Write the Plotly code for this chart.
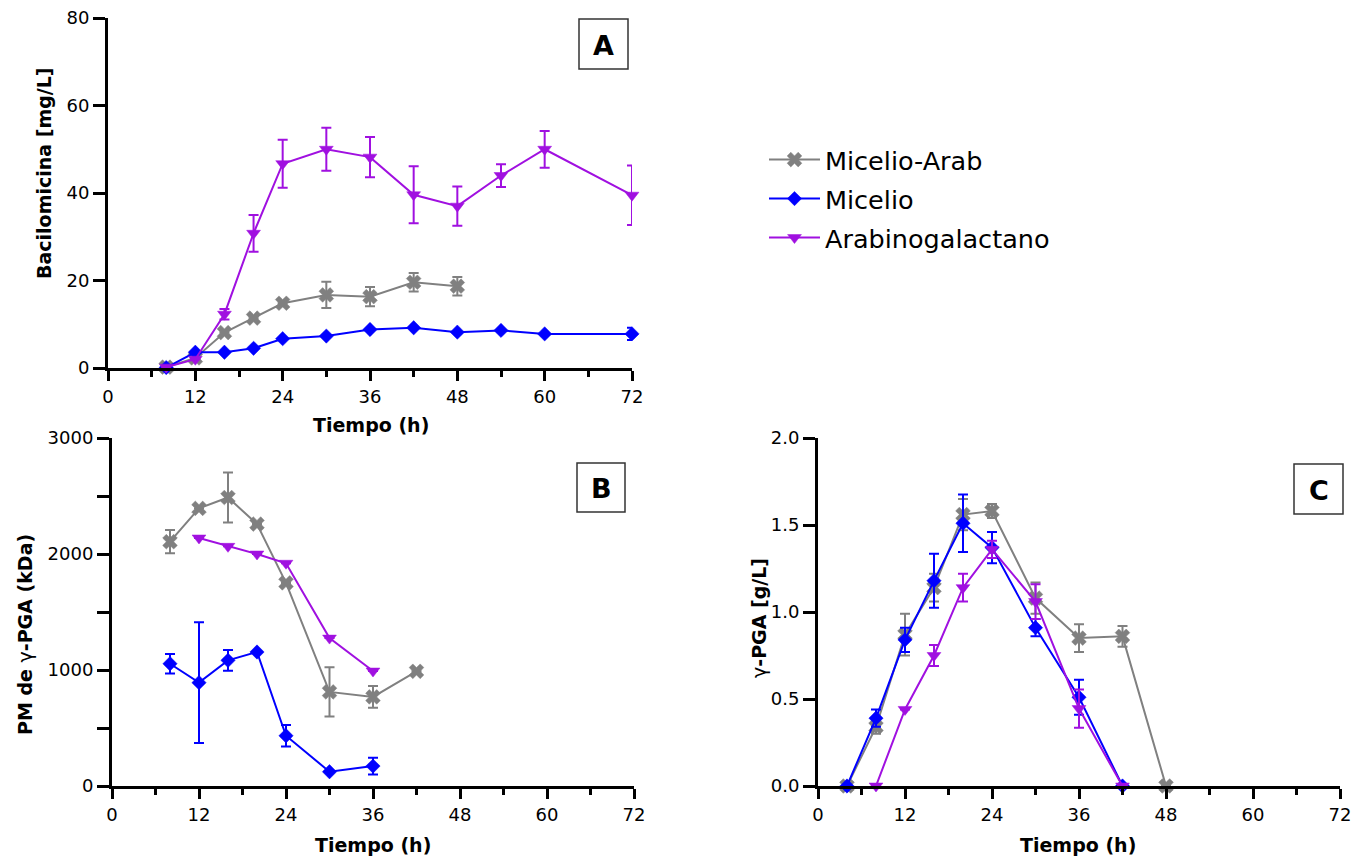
import plotly.graph_objects as go

# ---------------- DATA ----------------
series_names = ["Micelio-Arab", "Micelio", "Arabinogalactano"]

# Panel A: Bacilomicina [mg/L]
hA_gray = [8, 12, 16, 20, 24, 30, 36, 42, 48]
A_gray = [0.2, 2.3, 8.1, 11.4, 14.8, 16.7, 16.3, 19.6, 18.7]
A_gray_err = [None, None, None, None, None, 3.0, 2.2, 2.1, 2.1]

hA_blue = [8, 12, 16, 20, 24, 30, 36, 42, 48, 54, 60, 72]
A_blue = [0.1, 3.6, 3.6, 4.5, 6.7, 7.3, 8.8, 9.2, 8.2, 8.6, 7.8, 7.8]
A_blue_err = [None, None, None, None, None, None, None, None, None, None, None, 1.4]

hA_purple = [8, 12, 16, 20, 24, 30, 36, 42, 48, 54, 60, 72]
A_purple = [0.2, 2.0, 12.3, 30.8, 46.7, 50.0, 48.2, 39.6, 37.0, 44.0, 50.0, 39.5]
A_purple_err = [None, None, 1.2, 4.2, 5.5, 4.9, 4.6, 6.5, 4.5, 2.6, 4.2, 6.8]

# Panel B: PM de gamma-PGA (kDa)
hB_gray = [8, 12, 16, 20, 24, 30, 36, 42]
B_gray = [2106, 2393, 2487, 2258, 1751, 811, 768, 989]
B_gray_err = [100, None, 215, None, None, 212, 93, None]

hB_blue = [8, 12, 16, 20, 24, 30, 36]
B_blue = [1054, 891, 1083, 1155, 433, 123, 172]
B_blue_err = [85, 520, 90, None, 93, None, 72]

hB_purple = [12, 16, 20, 24, 30, 36]
B_purple = [2138, 2066, 2000, 1920, 1275, 991]
B_purple_err = [None, None, None, None, None, None]

# Panel C: gamma-PGA [g/L]
hC_gray = [4, 8, 12, 16, 20, 24, 30, 36, 42, 48]
C_gray = [0.0, 0.34, 0.87, 1.14, 1.56, 1.58, 1.08, 0.85, 0.86, 0.0]
C_gray_err = [None, 0.04, 0.12, 0.08, 0.09, 0.04, 0.09, 0.08, 0.06, None]

hC_blue = [4, 8, 12, 16, 20, 24, 30, 36, 42]
C_blue = [0.0, 0.39, 0.84, 1.18, 1.51, 1.37, 0.91, 0.51, 0.0]
C_blue_err = [None, 0.05, 0.07, 0.155, 0.165, 0.09, 0.05, 0.1, None]

hC_purple = [8, 12, 16, 20, 24, 30, 36, 42]
C_purple = [0.0, 0.44, 0.75, 1.14, 1.36, 1.06, 0.445, 0.0]
C_purple_err = [None, None, 0.06, 0.08, 0.05, 0.1, 0.11, None]

x_ticks = [0, 12, 24, 36, 48, 60, 72]

# ---------------- STYLE ----------------
W, H = 1364, 861
colors = ["#808080", "#0000FF", "#A010E0"]
symbols = ["x", "diamond", "triangle-down"]
msizes = [13, 11, 12]
FONT = "DejaVu Sans, Liberation Sans, Arial, sans-serif"


def px_x(p):
    return p / W


def px_y(p):
    return 1 - p / H


fig = go.Figure()

panels = [
    ("x", "y", [(hA_gray, A_gray, A_gray_err), (hA_blue, A_blue, A_blue_err), (hA_purple, A_purple, A_purple_err)]),
    ("x2", "y2", [(hB_gray, B_gray, B_gray_err), (hB_blue, B_blue, B_blue_err), (hB_purple, B_purple, B_purple_err)]),
    ("x3", "y3", [(hC_gray, C_gray, C_gray_err), (hC_blue, C_blue, C_blue_err), (hC_purple, C_purple, C_purple_err)]),
]

legend_keys = ["legend", "legend2", "legend3"]
for pi, (xa, ya, data) in enumerate(panels):
    for si, (hx, yv, ye) in enumerate(data):
        fig.add_trace(go.Scatter(
            x=hx, y=yv, xaxis=xa, yaxis=ya,
            mode="lines+markers",
            name=series_names[si],
            line=dict(color=colors[si], width=2),
            marker=dict(symbol=symbols[si], size=msizes[si], color=colors[si],
                        line=dict(width=0.5, color=colors[si])),
            error_y=dict(type="data", array=ye, visible=True, color=colors[si],
                         thickness=2, width=5),
            cliponaxis=False,
            showlegend=(pi == 0),
            legend=legend_keys[si],
        ))

axis_common = dict(
    showline=True, linecolor="black", linewidth=3,
    ticks="outside", tickcolor="black", tickwidth=3,
    showgrid=False, zeroline=False, automargin=False,
    tickfont=dict(family=FONT, size=18, color="black"),
)

xdom_A = [px_x(108), px_x(632)]
xdom_B = [px_x(112), px_x(634)]
xdom_C = [px_x(818), px_x(1340)]
ydom_A = [px_y(368), px_y(18)]
ydom_BC = [px_y(786), px_y(438)]

xaxis_common = dict(axis_common, range=[0, 72], tickvals=x_ticks, ticklen=10,
                    minor=dict(ticks="outside", ticklen=6, tickwidth=3, tickcolor="black", dtick=6, tick0=0))

fig.update_layout(
    width=W, height=H,
    margin=dict(l=0, r=0, t=0, b=0, autoexpand=False),
    paper_bgcolor="white", plot_bgcolor="white",
    xaxis=dict(xaxis_common, domain=xdom_A, anchor="y"),
    yaxis=dict(axis_common, domain=ydom_A, anchor="x", range=[0, 80], tickvals=[0, 20, 40, 60, 80], ticklen=12),
    xaxis2=dict(xaxis_common, domain=xdom_B, anchor="y2"),
    yaxis2=dict(axis_common, domain=ydom_BC, anchor="x2", range=[0, 3000], tickvals=[0, 1000, 2000, 3000], ticklen=12,
                minor=dict(ticks="outside", ticklen=12, tickwidth=3, tickcolor="black", dtick=500, tick0=0)),
    xaxis3=dict(xaxis_common, domain=xdom_C, anchor="y3"),
    yaxis3=dict(axis_common, domain=ydom_BC, anchor="x3", range=[0, 2.0], tickvals=[0, 0.5, 1.0, 1.5, 2.0],
                ticktext=["0.0", "0.5", "1.0", "1.5", "2.0"], ticklen=12),
    font=dict(family=FONT, color="black"),
)

# separate legends, one per series, for exact placement
leg_y = [160, 199, 238]
for k, yy in zip(legend_keys, leg_y):
    fig.update_layout({k: dict(x=px_x(764), y=px_y(yy), xanchor="left", yanchor="middle",
                               bgcolor="rgba(0,0,0,0)", borderwidth=0, itemwidth=51,
                               font=dict(family=FONT, size=25.5, color="black"))})

# axis titles
title_font = dict(family=FONT, size=19, color="black")
annotations = [
    dict(text="<b>Tiempo (h)</b>", x=px_x(371), y=px_y(425)),
    dict(text="<b>Tiempo (h)</b>", x=px_x(373), y=px_y(845)),
    dict(text="<b>Tiempo (h)</b>", x=px_x(1078), y=px_y(845)),
    dict(text="<b>Bacilomicina [mg/L]</b>", x=px_x(44), y=px_y(173), textangle=-90),
    dict(text="<b>PM de </b>γ<b>-PGA (kDa)</b>", x=px_x(25), y=px_y(635), textangle=-90),
    dict(text="γ<b>-PGA [g/L]</b>", x=px_x(759), y=px_y(618), textangle=-90),
]
for a in annotations:
    fig.add_annotation(xref="paper", yref="paper", showarrow=False,
                       xanchor="center", yanchor="middle", font=title_font, **a)

# panel letters in boxes
boxes = [("A", 579, 628, 19, 69), ("B", 577, 625, 463, 512), ("C", 1294, 1343, 464, 514)]
for lab, x0, x1, y0, y1 in boxes:
    fig.add_shape(type="rect", xref="paper", yref="paper",
                  x0=px_x(x0), x1=px_x(x1), y0=px_y(y1), y1=px_y(y0),
                  line=dict(color="#333333", width=1.5), fillcolor="white")
    fig.add_annotation(xref="paper", yref="paper", showarrow=False,
                       x=px_x((x0 + x1) / 2), y=px_y((y0 + y1) / 2 + 1),
                       xanchor="center", yanchor="middle",
                       text="<b>%s</b>" % lab, font=dict(family=FONT, size=27, color="black"))

fig.write_html("out.html")
